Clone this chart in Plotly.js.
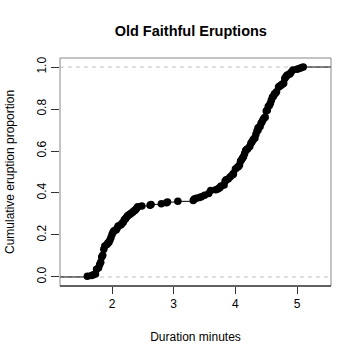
<!DOCTYPE html>
<html>
<head>
<meta charset="utf-8">
<script src="https://cdn.plot.ly/plotly-3.0.1.min.js"></script>
<style>html,body{margin:0;padding:0;background:#fff;}#chart{width:360px;height:360px;}</style>
</head>
<body>
<div id="chart"></div>
<script>
// Old Faithful eruption durations (minutes)
const eruptions = [3.600,1.800,3.333,2.283,4.533,2.883,4.700,3.600,1.950,4.350,1.833,3.917,4.200,1.750,4.700,2.167,1.750,4.800,1.600,4.250,1.800,1.750,3.450,3.067,4.533,3.600,1.967,4.083,3.850,4.433,4.300,4.467,3.367,4.033,3.833,2.017,1.867,4.833,1.833,4.783,4.350,1.883,4.567,1.750,4.533,3.317,3.833,2.100,4.633,2.000,4.800,4.716,1.833,4.833,1.733,4.883,3.717,1.667,4.567,4.317,2.233,4.500,1.750,4.800,1.817,4.400,4.167,4.700,2.067,4.700,4.033,1.967,4.500,4.000,1.983,5.067,2.017,4.567,3.883,3.600,4.133,4.333,4.100,2.633,4.067,4.933,3.950,4.517,2.167,4.000,2.200,4.333,1.867,4.817,1.833,4.300,4.667,3.750,1.867,4.900,2.483,4.367,2.100,4.500,4.050,1.867,4.700,1.783,4.850,3.683,4.733,2.300,4.900,4.417,1.700,4.633,2.317,4.600,1.817,4.417,2.617,4.067,4.250,1.967,4.600,3.767,1.917,4.500,2.267,4.650,1.867,4.167,2.800,4.333,1.833,4.383,1.883,4.933,2.033,3.733,4.233,2.233,4.533,4.817,4.333,1.983,4.633,2.017,5.100,1.800,5.033,4.000,2.400,4.600,3.567,4.000,4.500,4.083,1.800,3.967,2.200,4.150,2.000,3.833,3.500,4.583,2.367,5.000,1.933,4.617,1.917,2.083,4.583,3.333,4.167,4.333,4.500,2.417,4.000,4.167,1.883,4.583,4.250,3.767,2.033,4.433,4.083,1.833,4.417,2.183,4.800,1.833,4.800,4.100,3.966,4.233,3.500,4.366,2.250,4.667,2.100,4.350,4.133,1.867,4.600,1.783,4.367,3.850,1.933,4.500,2.383,4.700,1.867,3.833,3.417,4.233,2.400,4.800,2.000,4.150,1.867,4.267,1.750,4.483,4.000,4.117,4.083,4.267,3.917,4.550,4.083,2.417,4.183,2.217,4.450,1.883,1.850,4.283,3.950,2.333,4.150,2.350,4.933,2.900,4.583,3.833,2.083,4.367,2.133,4.350,2.200,4.450,3.567,4.500,4.150,3.817,3.917,4.450,2.000,4.283,4.767,4.533,1.850,4.250,1.983,2.250,4.750,4.117,2.150,4.417,1.817,4.467];
const xTicks = [2, 3, 4, 5];
const yTicks = [0.0, 0.2, 0.4, 0.6, 0.8, 1.0];
const yTickLabels = ["0.0", "0.2", "0.4", "0.6", "0.8", "1.0"];
const titleText = "Old Faithful Eruptions";
const xTitle = "Duration minutes";
const yTitle = "Cumulative eruption proportion";

// empirical CDF (statistical transform of the data)
const sorted = eruptions.slice().sort((a, b) => a - b);
const n = sorted.length;
const knots = [], Fvals = [];
for (let i = 0; i < n; i++) {
  if (i === n - 1 || sorted[i + 1] !== sorted[i]) { knots.push(sorted[i]); Fvals.push((i + 1) / n); }
}
const xr = [1.157, 5.55];
const segX = [xr[0] - 1, knots[0], null], segY = [0, 0, null];
for (let i = 0; i < knots.length; i++) {
  const nx = i < knots.length - 1 ? knots[i + 1] : xr[1] + 1;
  segX.push(knots[i], nx, null); segY.push(Fvals[i], Fvals[i], null);
}

const font = "Liberation Sans, Arial, Helvetica, sans-serif";
const traces = [
  {x: segX, y: segY, mode: "lines", line: {color: "#000", width: 1}, hoverinfo: "skip", showlegend: false},
  {x: knots, y: Fvals, mode: "markers", marker: {color: "#000", size: 7.5}, showlegend: false}
];
const layout = {
  width: 360, height: 360,
  margin: {l: 60, r: 29, t: 58, b: 74},
  paper_bgcolor: "#fff", plot_bgcolor: "#fff",
  font: {family: font, size: 12, color: "#000"},
  title: {text: "<b>" + titleText + "</b>", font: {family: font, size: 14.5, color: "#000"}, x: 0.53, xanchor: "center", y: 0.915, yanchor: "middle"},
  xaxis: {range: xr, tickvals: xTicks, ticktext: xTicks.map(String), ticks: "outside", ticklen: 7, tickcolor: "#333", tickwidth: 1,
          showgrid: false, zeroline: false, showline: false, tickfont: {size: 12},
          title: {text: xTitle, font: {size: 12}, standoff: 22}},
  yaxis: {range: [-0.043, 1.043], tickvals: yTicks, ticktext: yTickLabels, ticks: "outside", ticklen: 8, tickcolor: "#333", tickwidth: 1,
          tickangle: -90, showgrid: false, zeroline: false, showline: false, tickfont: {size: 12},
          title: {text: yTitle, font: {size: 12}, standoff: 18}},
  shapes: [
    {type: "line", xref: "paper", yref: "y", x0: 0, x1: 1, y0: 0, y1: 0, line: {color: "#c0c0c0", width: 1, dash: "4px,4px"}, layer: "below"},
    {type: "line", xref: "paper", yref: "y", x0: 0, x1: 1, y0: 1, y1: 1, line: {color: "#c0c0c0", width: 1, dash: "4px,4px"}, layer: "below"},
    {type: "rect", xref: "paper", yref: "paper", x0: 0, x1: 1, y0: 0, y1: 1, line: {color: "#888", width: 1}},
    {type: "line", xref: "paper", yref: "paper", x0: 0, x1: 1, y0: 0, y1: 0, line: {color: "#000", width: 1}}
  ]
};
Plotly.newPlot("chart", traces, layout, {displayModeBar: false, staticPlot: true});
</script>
</body>
</html>
